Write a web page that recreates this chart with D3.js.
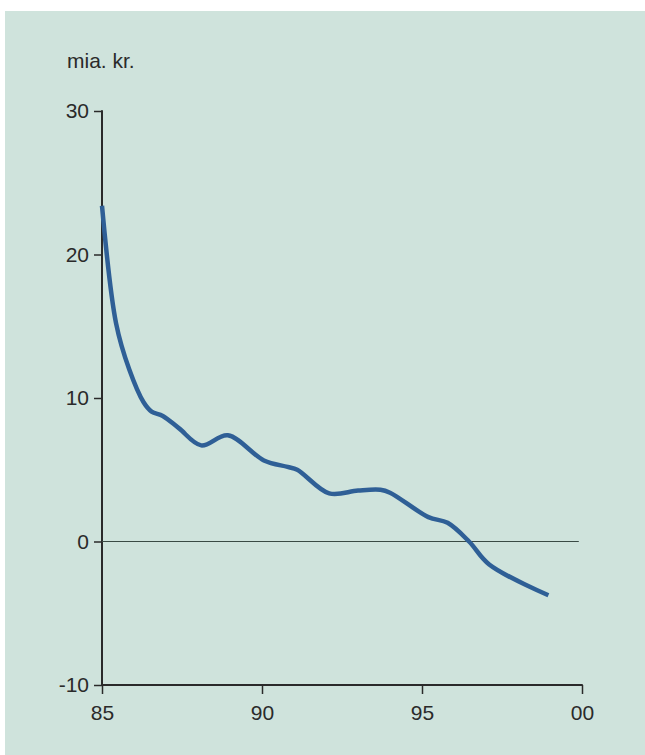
<!DOCTYPE html>
<html>
<head>
<meta charset="utf-8">
<script src="https://cdn.jsdelivr.net/npm/d3@7"></script>
<style>
  html, body { margin: 0; padding: 0; background: #ffffff; }
  svg { display: block; }
  text { font-family: "Liberation Sans", Arial, sans-serif; fill: #2a2a2a; }
</style>
</head>
<body>
<script>
// ---- data ----
const years  = [85, 85.44, 85.85, 86.3, 86.55, 86.9, 87.4, 88.1, 88.93, 90.06, 90.8, 91.1, 92.1, 93.0, 93.7, 94.0, 95.2, 95.8, 96.47, 97.1, 98.95];
const values = [23.4, 15.2, 12.0, 9.7, 9.05, 8.75, 7.9, 6.7, 7.4, 5.65, 5.2, 5.0, 3.35, 3.55, 3.6, 3.4, 1.7, 1.3, 0, -1.6, -3.75];
const yTicks = [-10, 0, 10, 20, 30];
const xTicks = [85, 90, 95, 100];
const xTickLabels = ["85", "90", "95", "00"];
const unitLabel = "mia. kr.";

const W = 645, H = 755;
const FONT = "'Liberation Sans', Arial, sans-serif";
const svg = d3.select("body").append("svg").attr("width", W).attr("height", H);

// background panel
svg.append("rect").attr("x", 0).attr("y", 0).attr("width", W).attr("height", H).attr("fill", "#ffffff");
svg.append("rect").attr("x", 5).attr("y", 11).attr("width", W - 5).attr("height", H - 11).attr("fill", "#cfe3dc");

const x = d3.scaleLinear().domain([85, 100]).range([102, 582]);
const y = d3.scaleLinear().domain([-10, 30]).range([685, 111]);

// y axis
const yAxis = d3.axisLeft(y).tickValues(yTicks).tickSize(8).tickPadding(5).tickFormat(d => d);
const gy = svg.append("g").attr("transform", `translate(${x(85)},0)`).call(yAxis);
gy.select(".domain").remove();
gy.selectAll(".tick line").attr("stroke", "#2a2a2a").attr("stroke-width", 1.5);
gy.selectAll(".tick text").attr("font-size", 21).attr("fill", "#2a2a2a").style("font-family", FONT);
gy.append("line").attr("x1", 0).attr("x2", 0).attr("y1", y(30) - 0.75).attr("y2", y(-10)).attr("stroke", "#2a2a2a").attr("stroke-width", 2);

// x axis
const xAxis = d3.axisBottom(x).tickValues(xTicks).tickSize(9).tickPadding(11).tickFormat((d, i) => xTickLabels[i]);
const gx = svg.append("g").attr("transform", `translate(0,${y(-10)})`).call(xAxis);
gx.select(".domain").remove();
gx.selectAll(".tick line").attr("stroke", "#2a2a2a").attr("stroke-width", 1.5);
gx.selectAll(".tick text").attr("font-size", 21).attr("fill", "#2a2a2a").style("font-family", FONT);
gx.append("line").attr("x1", x(85)).attr("x2", x(100) + 0.75).attr("y1", 0).attr("y2", 0).attr("stroke", "#2a2a2a").attr("stroke-width", 2);

// zero line
svg.append("line").attr("x1", x(85)).attr("x2", x(99.9)).attr("y1", y(0)).attr("y2", y(0))
  .attr("stroke", "#3a4a44").attr("stroke-width", 1.2);

// unit label
svg.append("text").attr("x", 67).attr("y", 68).attr("font-size", 21).style("font-family", FONT).text(unitLabel);

// series line
const pts = years.map((yr, i) => [yr, values[i]]);
const line = d3.line().x(d => x(d[0])).y(d => y(d[1])).curve(d3.curveCatmullRom.alpha(0.5));
svg.append("path").datum(pts).attr("d", line).attr("fill", "none")
  .attr("stroke", "#2f5f96").attr("stroke-width", 4.5).attr("stroke-linecap", "butt").attr("stroke-linejoin", "round");
</script>
</body>
</html>
